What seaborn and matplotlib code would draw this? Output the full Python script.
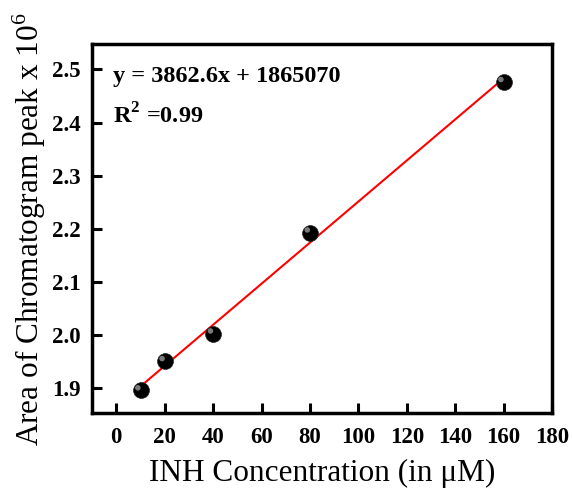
import numpy as np
import pandas as pd
import matplotlib
matplotlib.use("Agg")
import matplotlib.pyplot as plt
import seaborn as sns

# INH calibration data (peak area in units of 10^6)
concentration = [10, 20, 40, 80, 160]
peak_area = [1.896, 1.951, 2.003, 2.193, 2.476]

# Linear fit reported for the calibration
slope = 3862.6
intercept = 1865070

x_ticks = [0, 20, 40, 60, 80, 100, 120, 140, 160, 180]
y_ticks = [1.9, 2.0, 2.1, 2.2, 2.3, 2.4, 2.5]

sns.set_theme(style="white")
plt.rcParams["font.family"] = ["Liberation Serif", "DejaVu Serif"]
plt.rcParams["mathtext.fontset"] = "custom"
plt.rcParams["mathtext.rm"] = "Liberation Serif"
plt.rcParams["mathtext.bf"] = "Liberation Serif:bold"
for key in ["text.color", "axes.labelcolor", "xtick.color", "ytick.color"]:
    plt.rcParams[key] = "black"

df = pd.DataFrame({"conc": concentration, "area": peak_area})

fig = plt.figure(figsize=(5.72, 4.88), dpi=100)
ax = fig.add_axes([0.161, 0.153, 0.804, 0.756])

# fitted line
xf = np.array([concentration[0], concentration[-1]], dtype=float)
yf = (slope * xf + intercept) / 1e6
sns.lineplot(x=xf, y=yf, ax=ax, color="red", lw=1.5, zorder=2)

# sphere-like markers
sns.scatterplot(data=df, x="conc", y="area", ax=ax, s=130, color="black",
                edgecolor="#222222", linewidth=0.5, zorder=3)
sns.scatterplot(x=np.array(concentration) - 1.1, y=np.array(peak_area) + 0.005,
                ax=ax, s=16, color="#9a9a9a", edgecolor="none", alpha=0.8, zorder=4)

ax.set_xlim(-10, 180)
ax.set_ylim(1.853, 2.547)
ax.set_xticks(x_ticks)
ax.set_yticks(y_ticks)
ax.set_yticklabels([f"{v:.1f}" for v in y_ticks])

for side in ["left", "bottom", "top", "right"]:
    ax.spines[side].set_visible(True)
    ax.spines[side].set_color("black")
    ax.spines[side].set_linewidth(2.5)

ax.tick_params(axis="both", which="major", direction="in", length=7, width=2.2,
               color="black", labelcolor="black", labelsize=16.5, pad=8,
               top=False, right=False, bottom=True, left=True)
ax.tick_params(axis="x", pad=10)
for lab in ax.get_xticklabels() + ax.get_yticklabels():
    lab.set_fontweight("bold")

ax.set_xlabel("INH Concentration (in \u03bcM)", fontsize=22.5, labelpad=8)
ax.set_ylabel(r"Area of Chromatogram peak x 10$^6$", fontsize=22.5, labelpad=3)

ax.text(0.046, 0.913, f"y = {slope:g}x + {intercept}", transform=ax.transAxes,
        fontsize=17.5, fontweight="bold", va="center")
ax.text(0.046, 0.805, r"R$^{\mathbf{2}}$ =0.99", transform=ax.transAxes,
        fontsize=17.5, fontweight="bold", va="center")

ax.grid(False)
fig.savefig("out.png", dpi=100)
